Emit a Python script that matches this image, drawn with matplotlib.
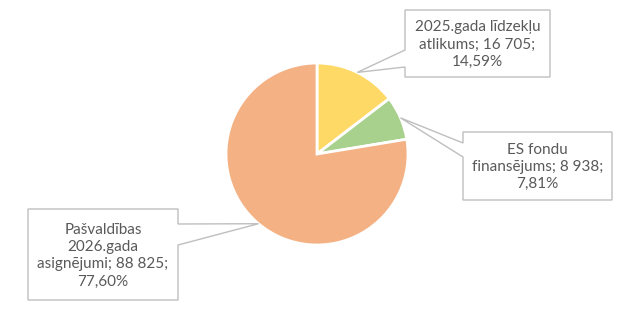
import matplotlib
matplotlib.use("Agg")
import matplotlib.pyplot as plt
from matplotlib.patches import Polygon
import numpy as np

# Budget sources (thousand EUR)
names = ["2025.gada līdzekļu\natlikums", "ES fondu\nfinansējums", "Pašvaldības\n2026.gada\nasignējumi"]
values = [16705, 8938, 88825]
colors = ["#FFD966", "#A9D18E", "#F4B183"]

W, H = 643, 310
fig = plt.figure(figsize=(W / 100, H / 100), dpi=100)
ax = fig.add_axes([0, 0, 1, 1])
ax.set_xlim(0, W)
ax.set_ylim(0, H)
ax.axis("off")

cx, cy, r = 317, 154, 91  # pie centre / radius in pixels from top-left


def Y(y):
    return H - y


wedges, _ = ax.pie(values, colors=colors, startangle=90, counterclock=False,
                   center=(cx, Y(cy)), radius=r,
                   wedgeprops=dict(edgecolor="white", linewidth=2))
ax.set_xlim(0, W)
ax.set_ylim(0, H)
ax.set_aspect("equal")

total = sum(values)
pcts = [v / total * 100 for v in values]


def fmt_val(v):
    return f"{v:,}".replace(",", " ")


def fmt_pct(p):
    return f"{p:.2f}".replace(".", ",") + "%"


labels = [f"{n}; {fmt_val(v)};\n{fmt_pct(p)}" for n, v, p in zip(names, values, pcts)]

# anchor angle on the rim for each callout
mids = [(w.theta1 + w.theta2) / 2 for w in wedges]
anchor_angles = [mids[0], mids[1], 230.0]
tips = [(cx + r * np.cos(np.radians(a)), Y(cy) + r * np.sin(np.radians(a))) for a in anchor_angles]

# callout boxes: (x0, y0, x1, y1) in pixels from top-left, side of pointer, pointer base ys
boxes = [
    ((405, 10, 550, 77), "left", (50, 67)),
    ((463, 132, 612, 200), "left", (143, 157)),
    ((28, 209, 178, 300), "right", (224, 245)),
]

edge = "#BFBFBF"
txt = "#595959"
for (bx, side, (b0, b1)), tip, lab in zip(boxes, tips, labels):
    x0, y0, x1, y1 = bx
    if side == "left":
        pts = [(x0, y0), (x1, y0), (x1, y1), (x0, y1), (x0, b1), None, (x0, b0)]
    else:
        pts = [(x0, y0), (x1, y0), (x1, b0), None, (x1, b1), (x1, y1), (x0, y1)]
    verts = [tip if p is None else (p[0], Y(p[1])) for p in pts]
    ax.add_patch(Polygon(verts, closed=True, facecolor="white", edgecolor=edge,
                         linewidth=1.0, zorder=3))
    ax.text((x0 + x1) / 2, Y((y0 + y1) / 2) - 1, lab, ha="center", va="center",
            multialignment="center", fontsize=11.0, color=txt,
            family=["Lato", "DejaVu Sans"], linespacing=1.3, zorder=4)

fig.savefig("out.png", dpi=100, facecolor="white")
